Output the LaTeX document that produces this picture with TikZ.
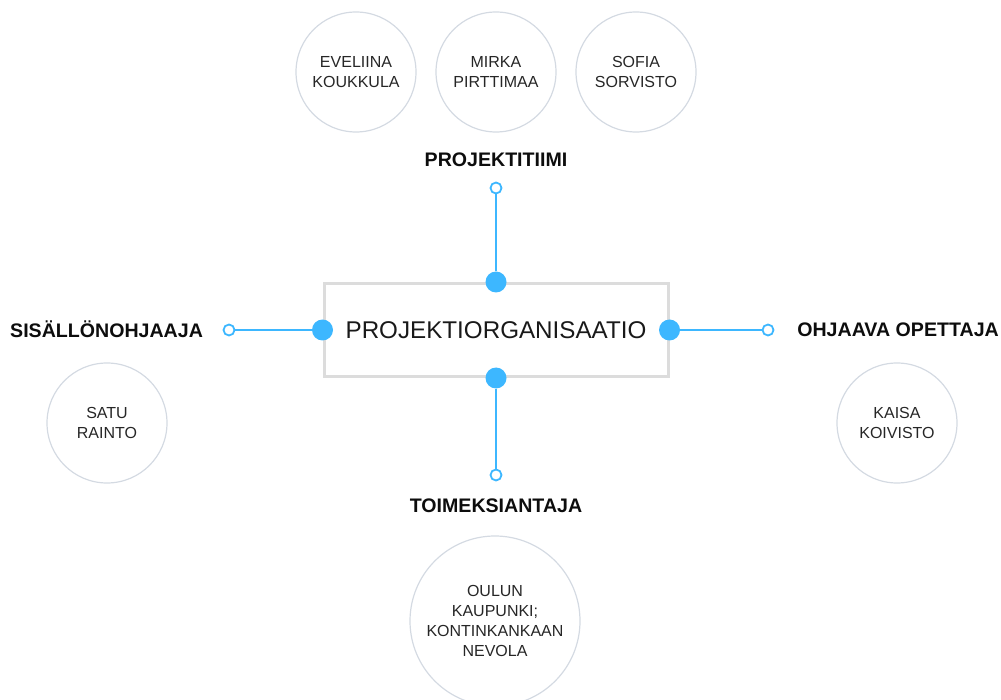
\documentclass[tikz,border=0pt]{standalone}
\usepackage{fontspec}
\setmainfont{Liberation Sans}
\definecolor{linkblue}{RGB}{61,183,255}
\definecolor{ringgray}{RGB}{212,218,226}
\definecolor{boxgray}{RGB}{220,220,220}
\tikzset{
	person/.style={circle, draw=ringgray, line width=1.2pt, minimum size=120pt, inner sep=0pt, align=center, font=\fontsize{16}{20}\selectfont, text=black!85},
	role/.style={font=\fontsize{19.6}{22}\selectfont\bfseries, text=black!95},
	knob/.style={circle, fill=linkblue, minimum size=21pt, inner sep=0pt},
	ring/.style={circle, draw=linkblue, fill=white, line width=1.8pt, minimum size=11pt, inner sep=0pt},
	link/.style={draw=linkblue, line width=1.8pt}
}

\begin{document}
\begin{tikzpicture}[x=1pt, y=-1pt]
			%%%%% START %%%%%
			\useasboundingbox (0, 0) rectangle (1001, 700);
			
			\node[draw=boxgray, line width=3pt, minimum width=344pt, minimum height=93pt, font=\fontsize{24.2}{28}\selectfont, text=black!90] (org) at (496, 330) {PROJEKTIORGANISAATIO};
			
			\node[knob] (topknob) at (org.north) {};
			\node[knob] (bottomknob) at (org.south) {};
			\node[knob] (leftknob) at (org.west) {};
			\node[knob] (rightknob) at (org.east) {};
			
			\node[ring] (tiimiend) at (496, 188) {};
			\node[ring] (antajaend) at (496, 475) {};
			\node[ring] (sisaltoend) at (229, 330) {};
			\node[ring] (ohjaavaend) at (768, 330) {};
			
			\draw[link] (topknob) -- (tiimiend);
			\draw[link] (bottomknob) -- (antajaend);
			\draw[link] (leftknob) -- (sisaltoend);
			\draw[link] (rightknob) -- (ohjaavaend);
			
			\node[role, anchor=base] (tiimi) at (496, 167) {PROJEKTITIIMI};
			\node[role, anchor=base] (antaja) at (496, 512) {TOIMEKSIANTAJA};
			\node[role, anchor=base west, inner sep=0pt] (sisalto) at (10, 338) {SISÄLLÖNOHJAAJA};
			\node[role, anchor=base east, inner sep=0pt] (ohjaava) at (999, 337) {OHJAAVA OPETTAJA};
			
			\node[person] (eveliina) at (356, 72) {EVELIINA\\KOUKKULA};
			\node[person] (mirka) at (496, 72) {MIRKA\\PIRTTIMAA};
			\node[person] (sofia) at (636, 72) {SOFIA\\SORVISTO};
			\node[person] (satu) at (107, 423) {SATU\\RAINTO};
			\node[person] (kaisa) at (897, 423) {KAISA\\KOIVISTO};
			\node[person, minimum size=170pt] (oulu) at (495, 621) {OULUN\\KAUPUNKI;\\KONTINKANKAAN\\NEVOLA};
			
			%%%%% END %%%%%
\end{tikzpicture}
\end{document}
